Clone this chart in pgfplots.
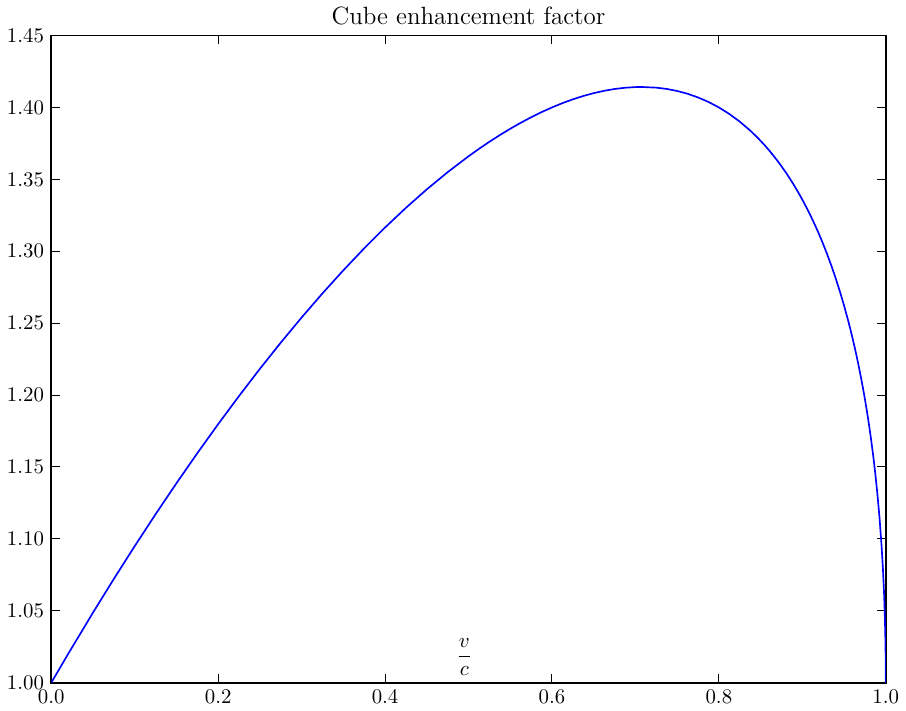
\documentclass[border=0pt]{standalone}
\usepackage{pgfplots}
\pgfplotsset{compat=1.18}
\begin{document}
\begin{tikzpicture}
\begin{axis}[
  scale only axis,
  width=401pt, height=311pt,
  xmin=0, xmax=1, ymin=1.0, ymax=1.45,
  xtick={0,0.2,0.4,0.6,0.8,1.0},
  ytick={1.00,1.05,1.10,1.15,1.20,1.25,1.30,1.35,1.40,1.45},
  xticklabel style={/pgf/number format/.cd,fixed,fixed zerofill,precision=1},
  yticklabel style={/pgf/number format/.cd,fixed,fixed zerofill,precision=2},
  tick align=inside,
  xtick pos=both, ytick pos=both,
  major tick length=4pt,
  tick style={black, line width=0.5pt},
  axis line style={line width=0.9pt},
  title={\large Cube enhancement factor},
  title style={yshift=-4.5pt},
  clip=true,
]
\addplot[blue, line width=0.8pt, line join=round] coordinates {
(0,1) (0.02,1.0198) (0.05,1.04875) (0.075,1.07218) (0.1,1.09499) (0.125,1.11716)
(0.15,1.13869) (0.175,1.15957) (0.2,1.17980) (0.225,1.19936)
(0.25,1.21825) (0.275,1.23645) (0.3,1.25394) (0.325,1.27072) (0.35,1.28675)
(0.375,1.30203) (0.4,1.31652) (0.425,1.33019) (0.45,1.34303) (0.475,1.35499)
(0.5,1.36603) (0.5125,1.37119) (0.525,1.37610) (0.5375,1.38077) (0.55,1.38516)
(0.5625,1.38930) (0.575,1.39315) (0.5875,1.39672) (0.6,1.4) (0.6125,1.40297)
(0.625,1.40563) (0.6375,1.40795) (0.65,1.40993) (0.6625,1.41156)
(0.675,1.41282) (0.6875,1.41368) (0.7,1.41414) (0.7071,1.41421) (0.725,1.41375)
(0.7375,1.41285) (0.75,1.41144) (0.7625,1.40949)
(0.775,1.40696) (0.7875,1.40381) (0.8,1.4) (0.8125,1.39546) (0.825,1.39013)
(0.8375,1.38394) (0.845,1.37977) (0.85,1.37678) (0.855,1.37363) (0.86,1.37029)
(0.865,1.36677) (0.87,1.36305) (0.875,1.35912)
(0.88,1.35497) (0.885,1.35059) (0.89,1.34596) (0.895,1.34107) (0.9,1.33589)
(0.905,1.33041) (0.91,1.32461) (0.915,1.31845) (0.92,1.31192) (0.925,1.30497)
(0.93,1.29756) (0.935,1.28965) (0.94,1.28117) (0.945,1.27207) (0.95,1.26225)
(0.955,1.25161) (0.9575,1.24593) (0.96,1.24) (0.9625,1.23378) (0.965,1.22725)
(0.9675,1.22037) (0.97,1.21310) (0.9725,1.20540) (0.975,1.19721) (0.9775,1.18844)
(0.98,1.17900) (0.9825,1.16876) (0.985,1.15755) (0.9875,1.14512) (0.99,1.13107)
(0.9925,1.11474) (0.995,1.09487) (0.9965,1.08009) (0.997,1.07440) (0.9975,1.06817)
(0.998,1.06121) (0.9985,1.05325) (0.999,1.04371) (0.9995,1.03112) (0.9997,1.02419)
(0.9998,1.01980) (0.9999,1.01404) (1,1)
};
\node at (axis cs:0.495,1.018) {$\displaystyle\frac{v}{c}$};
\end{axis}
\end{tikzpicture}
\end{document}
